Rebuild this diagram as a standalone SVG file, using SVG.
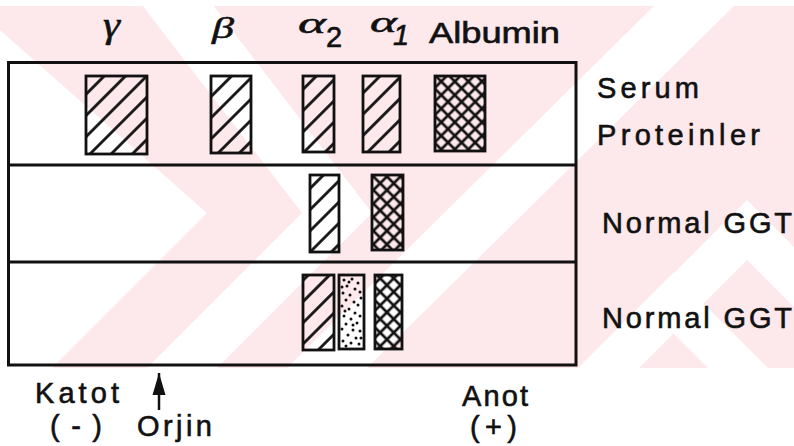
<svg xmlns="http://www.w3.org/2000/svg" width="794" height="446" viewBox="0 0 794 446">
<style>
  .lbl { font-family: "Liberation Sans", Arial, sans-serif; font-size: 29px; fill: #111; stroke: #111; stroke-width: 0.6px; }
  .greek { font-family: "Liberation Serif", "DejaVu Serif", serif; fill: #111; stroke: #111; stroke-width: 0.5px; }
  .frame { fill: none; stroke: #111; stroke-width: 3; }
  .band { stroke: #111; stroke-width: 2.8; }
  .wm { fill: #ffffff; }
  .dot { fill: #111; }
</style>
<defs>
  <pattern id="hatch" patternUnits="userSpaceOnUse" width="15" height="15" patternTransform="rotate(45)">
    <line x1="7.5" y1="0" x2="7.5" y2="15" stroke="#111" stroke-width="2.8"/>
  </pattern>
  <pattern id="cross" patternUnits="userSpaceOnUse" width="9.6" height="9.6" patternTransform="rotate(45)">
    <line x1="4.8" y1="0" x2="4.8" y2="9.6" stroke="#111" stroke-width="2.7"/>
    <line x1="0" y1="4.8" x2="9.6" y2="4.8" stroke="#111" stroke-width="2.7"/>
  </pattern>
  <marker id="arrowhead" viewBox="0 0 22 14" markerWidth="22" markerHeight="14" refX="22" refY="7" orient="auto" markerUnits="userSpaceOnUse">
    <path d="M0,0.5 L22,7 L0,13.5 Z" fill="#111"/>
  </marker>
  <clipPath id="wmclip"><rect x="0" y="6" width="794" height="362"/></clipPath>
</defs>

<!-- faint watermark -->
<g id="watermark" clip-path="url(#wmclip)">
  <rect x="0" y="6" width="794" height="362" fill="#fde8ec"/>
  <polygon class="wm" points="0,30 207,213 52,368 0,368"/>
  <polygon class="wm" points="142,5 213,5 372,213 217,368 147,368 302,213"/>
  <polygon class="wm" points="655,5 735,5 367,368 287,368"/>
  <polygon class="wm" points="673,273 768,368 708,368 673,333 638,368 578,368"/>
  <polygon class="wm" points="747,200 915,368 855,368 747,260 639,368 579,368"/>
</g>

<!-- gel frame -->
<g id="gel">
  <rect class="frame" x="8.5" y="62.5" width="567.5" height="302.5"/>
  <line class="frame" x1="8.5" y1="165" x2="576" y2="165"/>
  <line class="frame" x1="8.5" y1="262" x2="576" y2="262"/>
</g>

<!-- row 1: serum proteins -->
<g id="serum-gamma"><rect class="band" x="86" y="76" width="61" height="78" fill="url(#hatch)"/></g>
<g id="serum-beta"><rect class="band" x="211" y="76" width="40" height="77" fill="url(#hatch)"/></g>
<g id="serum-alpha2"><rect class="band" x="303" y="76" width="31" height="76" fill="url(#hatch)"/></g>
<g id="serum-alpha1"><rect class="band" x="363" y="76" width="37" height="76" fill="url(#hatch)"/></g>
<g id="serum-albumin"><rect class="band" x="435" y="76" width="50" height="75" fill="url(#cross)"/></g>

<!-- row 2 -->
<g id="ggt1-alpha2"><rect class="band" x="310" y="175" width="29" height="77" fill="url(#hatch)"/></g>
<g id="ggt1-alpha1"><rect class="band" x="372" y="175" width="31" height="75" fill="url(#cross)"/></g>

<!-- row 3 -->
<g id="ggt2-alpha2"><rect class="band" x="303" y="275" width="31" height="75" fill="url(#hatch)"/></g>
<g id="ggt2-dotted">
  <rect class="band" x="339" y="275" width="25" height="74" fill="none"/>
  <g class="dot">
    <circle cx="344" cy="280" r="1.5"/><circle cx="352" cy="279" r="1.5"/><circle cx="358" cy="283" r="1.5"/>
    <circle cx="347" cy="286" r="1.5"/><circle cx="355" cy="289" r="1.5"/><circle cx="343" cy="293" r="1.5"/>
    <circle cx="350" cy="295" r="1.5"/><circle cx="360" cy="292" r="1.5"/><circle cx="346" cy="300" r="1.5"/>
    <circle cx="354" cy="302" r="1.5"/><circle cx="342" cy="306" r="1.5"/><circle cx="358" cy="305" r="1.5"/>
    <circle cx="349" cy="309" r="1.5"/><circle cx="355" cy="313" r="1.5"/><circle cx="344" cy="316" r="1.5"/>
    <circle cx="360" cy="316" r="1.5"/><circle cx="351" cy="319" r="1.5"/><circle cx="346" cy="324" r="1.5"/>
    <circle cx="357" cy="323" r="1.5"/><circle cx="342" cy="329" r="1.5"/><circle cx="353" cy="330" r="1.5"/>
    <circle cx="360" cy="331" r="1.5"/><circle cx="348" cy="335" r="1.5"/><circle cx="356" cy="338" r="1.5"/>
    <circle cx="343" cy="341" r="1.5"/><circle cx="351" cy="343" r="1.5"/><circle cx="359" cy="344" r="1.5"/>
    <circle cx="346" cy="346" r="1.5"/><circle cx="361" cy="298" r="1.5"/><circle cx="342" cy="287" r="1.5"/>
    <circle cx="361" cy="338" r="1.5"/><circle cx="349" cy="282" r="1.5"/><circle cx="353" cy="325" r="1.5"/>
    <circle cx="345" cy="311" r="1.5"/>
  </g>
</g>
<g id="ggt2-alpha1"><rect class="band" x="375" y="275" width="27" height="74" fill="url(#cross)"/></g>

<!-- top labels -->
<g id="label-gamma"><text class="greek" x="103" y="37" font-size="36" font-style="italic" textLength="17" lengthAdjust="spacingAndGlyphs">γ</text></g>
<g id="label-beta"><text class="greek" x="212" y="38" font-size="30" font-style="italic" textLength="22" lengthAdjust="spacingAndGlyphs">β</text></g>
<g id="label-alpha2">
  <text class="greek" x="298" y="33" font-size="30" font-style="italic" textLength="28" lengthAdjust="spacingAndGlyphs">α</text>
  <text class="lbl" x="326" y="47" font-size="20">2</text>
</g>
<g id="label-alpha1">
  <text class="greek" x="370" y="32" font-size="30" font-style="italic" textLength="27" lengthAdjust="spacingAndGlyphs">α</text>
  <text class="lbl" x="393" y="45" font-size="18" font-style="italic">1</text>
</g>
<g id="label-albumin"><text class="lbl" x="429" y="43" textLength="131" lengthAdjust="spacingAndGlyphs">Albumin</text></g>

<!-- right labels -->
<g id="label-serum">
  <text class="lbl" x="597" y="98" textLength="102">Serum</text>
  <text class="lbl" x="597" y="145" textLength="163">Proteinler</text>
</g>
<g id="label-ggt1"><text class="lbl" x="602" y="233" textLength="190">Normal GGT</text></g>
<g id="label-ggt2"><text class="lbl" x="602" y="328" textLength="190">Normal GGT</text></g>

<!-- bottom labels -->
<g id="label-katot">
  <text class="lbl" x="35" y="403" textLength="84">Katot</text>
  <text class="lbl" x="50" y="436" textLength="52">( - )</text>
</g>
<g id="label-orjin"><text class="lbl" x="137" y="436" textLength="75">Orjin</text></g>
<g id="label-anot">
  <text class="lbl" x="462" y="406" textLength="66">Anot</text>
  <text class="lbl" x="470" y="437" textLength="47">( + )</text>
</g>

<g id="connectors">
  <line x1="159" y1="410" x2="159" y2="373" stroke="#111" stroke-width="2.5" marker-end="url(#arrowhead)"/>
</g>
</svg>
